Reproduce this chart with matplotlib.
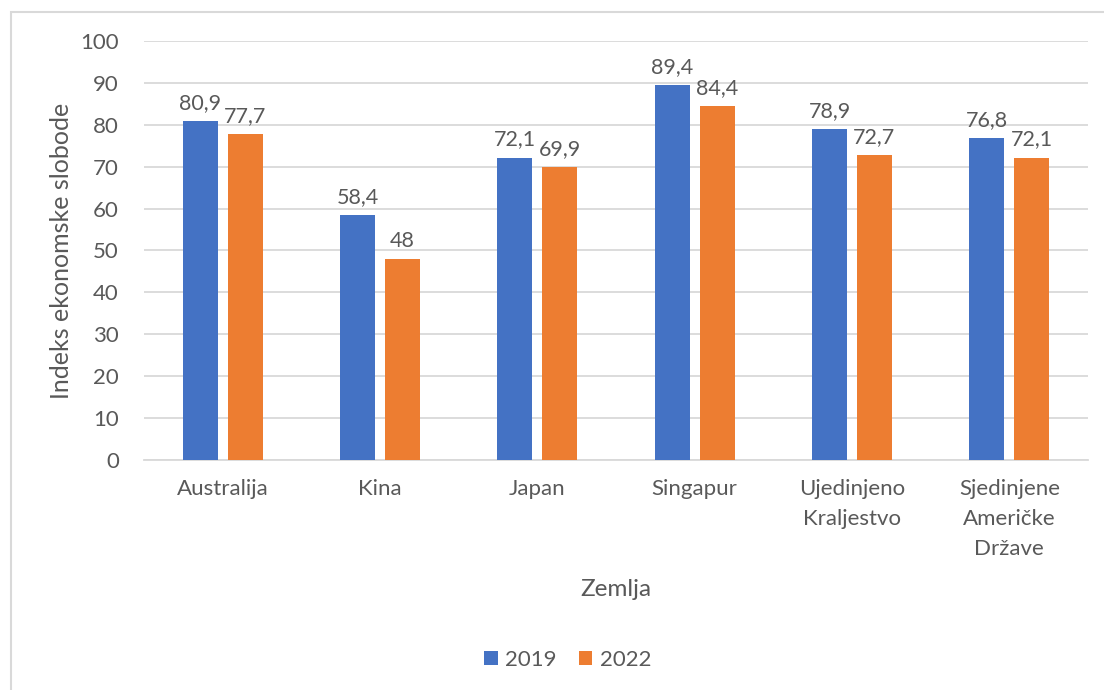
import numpy as np
import matplotlib.pyplot as plt
from matplotlib.patches import Rectangle

# Data
zemlje = ['Australija', 'Kina', 'Japan', 'Singapur',
          'Ujedinjeno\nKraljestvo', 'Sjedinjene\nAmeričke\nDržave']
vrijednosti_2019 = [80.9, 58.4, 72.1, 89.4, 78.9, 76.8]
vrijednosti_2022 = [77.7, 48, 69.9, 84.4, 72.7, 72.1]
godine = ['2019', '2022']

plava = '#4472c4'
narancasta = '#ed7d31'
siva_tekst = '#595959'
siva_linija = '#d9d9d9'

plt.rcParams['font.family'] = ['Lato', 'DejaVu Sans']

fig = plt.figure(figsize=(11.04, 6.9), dpi=100)
ax = fig.add_axes([144 / 1104, 1 - 460 / 690, (1088 - 144) / 1104, (460 - 41) / 690])

x = np.arange(len(zemlje))
sirina = 0.222
razmak = 0.064
pomak = (sirina + razmak) / 2

b1 = ax.bar(x - pomak, vrijednosti_2019, sirina, color=plava, label=godine[0], zorder=3)
b2 = ax.bar(x + pomak, vrijednosti_2022, sirina, color=narancasta, label=godine[1], zorder=3)


def oznaka(v):
    s = ('%.1f' % v).rstrip('0').rstrip('.')
    return s.replace('.', ',')


for bars, vals in ((b1, vrijednosti_2019), (b2, vrijednosti_2022)):
    ax.bar_label(bars, labels=[oznaka(v) for v in vals], padding=6,
                 fontsize=15.5, color=siva_tekst)

ax.set_xlim(-0.5, len(zemlje) - 0.5)
ax.set_ylim(0, 100)
ax.set_yticks(np.arange(0, 101, 10))
ax.yaxis.grid(True, color=siva_linija, linewidth=1.3, zorder=0)
ax.set_axisbelow(True)
for s in ['top', 'right', 'left']:
    ax.spines[s].set_visible(False)
ax.spines['bottom'].set_color(siva_linija)
ax.spines['bottom'].set_linewidth(1.3)
ax.tick_params(axis='both', length=0, labelsize=16, labelcolor=siva_tekst)
ax.tick_params(axis='y', pad=18)
ax.tick_params(axis='x', pad=14)
ax.set_xticks(x)
ax.set_xticklabels(zemlje, linespacing=1.6)

ax.set_ylabel('Indeks ekonomske slobode', fontsize=18, color=siva_tekst,
              va='center')
ax.yaxis.set_label_coords((62 - 144) / 944, 0.5)
fig.text(616 / 1104, 1 - 590 / 690, 'Zemlja', fontsize=17.5, color=siva_tekst,
         ha='center', va='center')

leg = fig.legend(handles=[b1, b2], labels=godine, loc='center',
                 bbox_to_anchor=(568 / 1104, 1 - 660 / 690), ncol=2, frameon=False,
                 fontsize=16, handlelength=0.6, handleheight=0.6,
                 handletextpad=0.35, columnspacing=1.0)
for t in leg.get_texts():
    t.set_color(siva_tekst)

# outer chart border (only left/top visible in the crop)
fig.patches.append(Rectangle((11 / 1104, -0.1), 1.2, 1 - 12 / 690 + 0.1,
                             transform=fig.transFigure, fill=False,
                             edgecolor=siva_linija, linewidth=1.5))

fig.savefig('out.png', dpi=100)
